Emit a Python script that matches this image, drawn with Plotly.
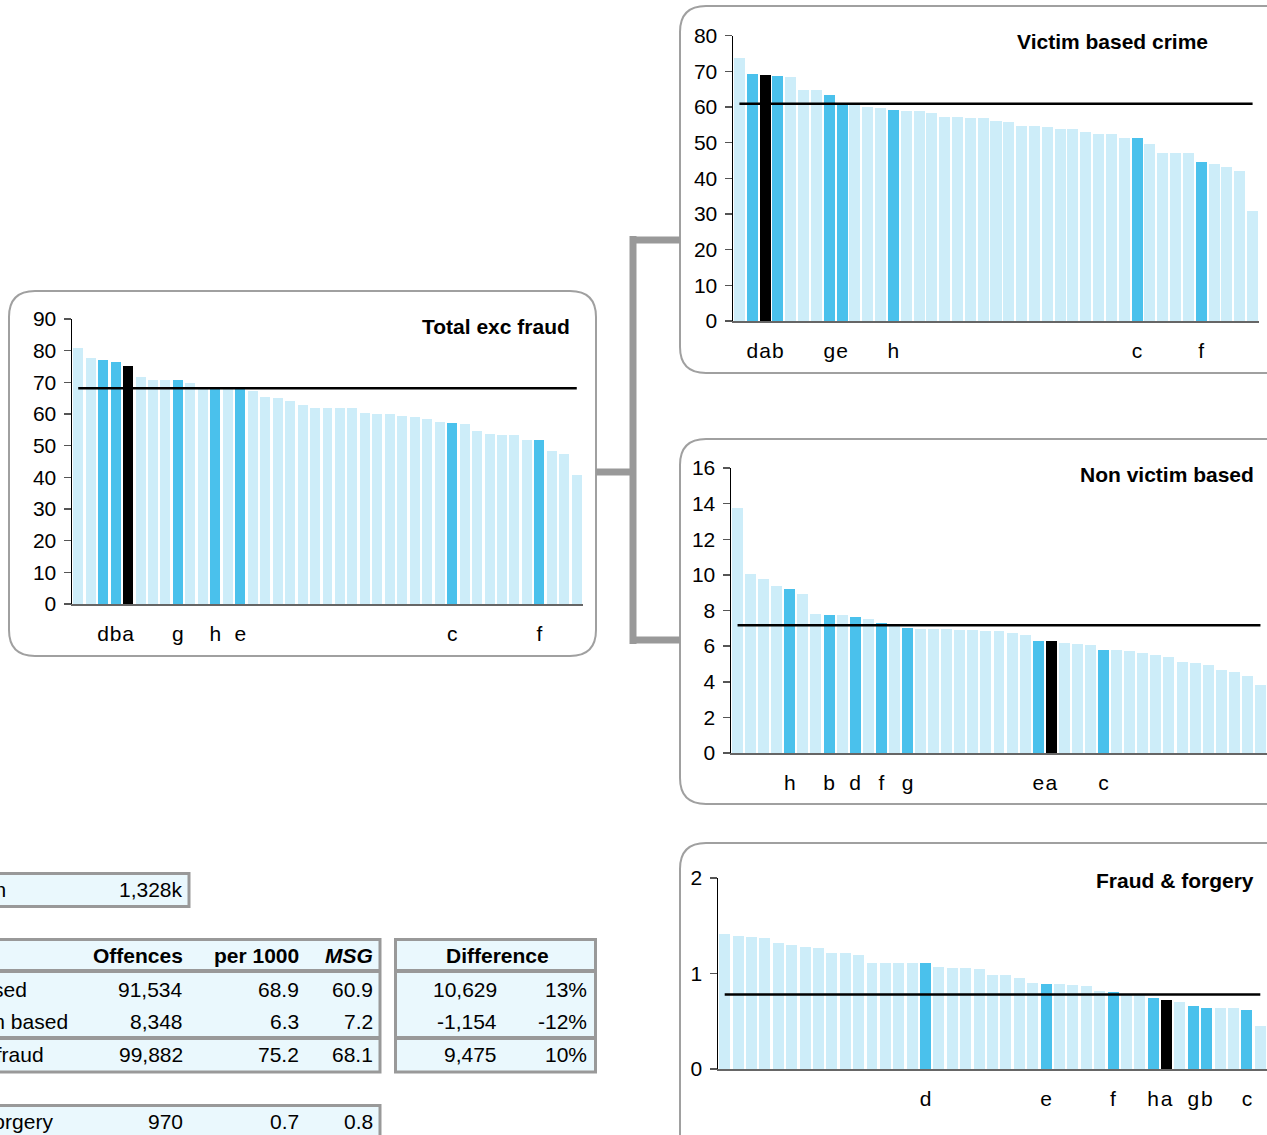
import plotly.graph_objects as go

W, H = 1267, 1135
FONT = "Liberation Sans, Arial, sans-serif"

# ---------------- data ----------------
tef_vals = [80.8, 77.7, 77.0, 76.4, 75.2, 71.7, 70.7, 70.7, 70.7, 69.8,
            68.5, 68.5, 68.3, 68.2, 67.3, 65.4, 65.0, 64.1, 62.8, 61.9,
            61.9, 61.9, 61.9, 60.3, 60.0, 60.0, 59.4, 59.1, 58.4, 57.5,
            57.1, 56.8, 54.6, 53.7, 53.4, 53.4, 51.8, 51.8, 48.3, 47.4,
            40.7]
tef_marks = {'d': 3, 'b': 4, 'a': 5, 'g': 9, 'h': 12, 'e': 14, 'c': 31, 'f': 38}
tef_avg = 68.1

vic_vals = [73.8, 69.4, 68.9, 68.8, 68.5, 64.9, 64.9, 63.5, 61.0, 60.6,
            59.9, 59.6, 59.3, 59.0, 59.0, 58.2, 57.3, 57.3, 56.8, 56.8,
            56.2, 55.7, 54.8, 54.8, 54.3, 53.7, 53.7, 53.1, 52.3, 52.3,
            51.2, 51.2, 49.5, 47.0, 47.0, 47.0, 44.5, 43.9, 43.1, 42.2,
            30.8]
vic_marks = {'d': 2, 'a': 3, 'b': 4, 'g': 8, 'e': 9, 'h': 13, 'c': 32, 'f': 37}
vic_avg = 60.9

nv_vals = [13.78, 10.07, 9.79, 9.40, 9.18, 8.95, 7.83, 7.77, 7.72, 7.66,
           7.55, 7.32, 7.15, 7.04, 6.98, 6.98, 6.98, 6.93, 6.93, 6.87,
           6.87, 6.76, 6.65, 6.31, 6.30, 6.20, 6.14, 6.09, 5.81, 5.81,
           5.75, 5.64, 5.52, 5.41, 5.13, 5.07, 4.96, 4.68, 4.57, 4.34,
           3.84]
nv_marks = {'h': 5, 'b': 8, 'd': 10, 'f': 12, 'g': 14, 'e': 24, 'a': 25, 'c': 29}
nv_avg = 7.17

ff_vals = [1.41, 1.39, 1.38, 1.37, 1.32, 1.30, 1.28, 1.27, 1.21, 1.21,
           1.19, 1.11, 1.11, 1.11, 1.11, 1.11, 1.07, 1.06, 1.06, 1.05,
           0.98, 0.98, 0.95, 0.90, 0.89, 0.89, 0.88, 0.87, 0.82, 0.81,
           0.78, 0.78, 0.74, 0.72, 0.70, 0.66, 0.64, 0.64, 0.64, 0.62,
           0.45]
ff_marks = {'d': 16, 'e': 25, 'f': 30, 'h': 33, 'a': 34, 'g': 36, 'b': 37, 'c': 40}
ff_avg = 0.78

# table data
pop_label = "Population"
pop_value = "1,328k"
table_header = ["Offences", "per 1000", "MSG"]
row_names = ["Victim based", "Non victim based", "Total exc fraud"]
offences = [91534, 8348, 99882]
per1000 = [68.9, 6.3, 75.2]
msg = [60.9, 7.2, 68.1]
diff_header = "Difference"
diff_n = [10629, -1154, 9475]
diff_pct = [13, -12, 10]
fraud_name = "Fraud & forgery"
fraud_off = 970
fraud_per1000 = 0.7
fraud_msg = 0.8

# ---------------- styling ----------------
LIGHT = "#CDEDF9"
BLUE = "#4AC1EC"
BLACK = "#000000"
GREY = "#A0A0A0"
FILL = "#EAF8FD"


def X(v):
    return v / W


def Y(v):
    return 1 - v / H


panels = [
    dict(title="Total exc fraud", vals=tef_vals, marks=tef_marks, avg=tef_avg,
         xd=(72, 583), yd=(604, 319), yr=(0, 90), dt=10, bw=0.8, tt=(572, 326)),
    dict(title="Victim based crime", vals=vic_vals, marks=vic_marks, avg=vic_avg,
         xd=(733, 1259), yd=(321, 35.7), yr=(0, 80), dt=10, bw=0.86, tt=(1210, 41)),
    dict(title="Non victim based", vals=nv_vals, marks=nv_marks, avg=nv_avg,
         xd=(731, 1267), yd=(753, 468), yr=(0, 16), dt=2, bw=0.84, tt=(1256, 475)),
    dict(title="Fraud & forgery", vals=ff_vals, marks=ff_marks, avg=ff_avg,
         xd=(718, 1267), yd=(1069, 878), yr=(0, 2), dt=1, bw=0.82, tt=(1256, 880)),
]

fig = go.Figure()
layout = dict(
    width=W, height=H, margin=dict(l=0, r=0, t=0, b=0, autoexpand=False),
    paper_bgcolor="white", plot_bgcolor="rgba(0,0,0,0)",
    showlegend=False, font=dict(family=FONT, size=21, color="black"),
    bargap=0,
)
annotations = []
shapes = []

for i, p in enumerate(panels):
    n = len(p["vals"])
    sfx = "" if i == 0 else str(i + 1)
    xa, ya = "x" + sfx, "y" + sfx
    labels = [""] * n
    for letter, pos in p["marks"].items():
        labels[pos - 1] = letter
    colors = [LIGHT if l == "" else (BLACK if l == "a" else BLUE) for l in labels]
    idx = list(range(n))
    fig.add_trace(go.Bar(x=idx, y=p["vals"], marker=dict(color=colors, line=dict(width=0)),
                         width=p["bw"], xaxis=xa, yaxis=ya, hoverinfo="y"))
    fig.add_trace(go.Scatter(x=idx, y=[p["avg"]] * n, mode="lines",
                             line=dict(color="black", width=2.5),
                             xaxis=xa, yaxis=ya, hoverinfo="skip"))
    tv = sorted(p["marks"].values())
    tvals = [v - 1 for v in tv]
    ttext = [labels[v] for v in tvals]
    layout["xaxis" + sfx] = dict(
        domain=[X(p["xd"][0]), X(p["xd"][1])], range=[-0.5, n - 0.5],
        anchor=ya, showline=True, linecolor="#666666", linewidth=2,
        ticks="", tickvals=tvals, ticktext=ttext, tickangle=0, ticklabelstandoff=10,
        tickfont=dict(size=21, color="black"), showgrid=False, zeroline=False,
        fixedrange=True, automargin=False,
    )
    layout["yaxis" + sfx] = dict(
        domain=[Y(p["yd"][0]), Y(p["yd"][1])], range=list(p["yr"]),
        anchor=xa, showline=True, linecolor="black", linewidth=1.5,
        ticks="outside", ticklen=7, tickwidth=1.5, tickcolor="#555555",
        tick0=0, dtick=p["dt"], ticklabelstandoff=3, tickangle=0,
        tickfont=dict(size=21, color="black"), showgrid=False, zeroline=False,
        fixedrange=True, automargin=False,
    )
    annotations.append(dict(text="<b>%s</b>" % p["title"], xref="paper", yref="paper",
                            x=X(p["tt"][0]), y=Y(p["tt"][1]), xanchor="right",
                            yanchor="middle", showarrow=False,
                            font=dict(size=21, color="black")))


def rrect_path(x0, y0, x1, y1, r):
    return " ".join([
        f"M {X(x0 + r)},{Y(y0)}",
        f"L {X(x1 - r)},{Y(y0)}",
        f"Q {X(x1)},{Y(y0)} {X(x1)},{Y(y0 + r)}",
        f"L {X(x1)},{Y(y1 - r)}",
        f"Q {X(x1)},{Y(y1)} {X(x1 - r)},{Y(y1)}",
        f"L {X(x0 + r)},{Y(y1)}",
        f"Q {X(x0)},{Y(y1)} {X(x0)},{Y(y1 - r)}",
        f"L {X(x0)},{Y(y0 + r)}",
        f"Q {X(x0)},{Y(y0)} {X(x0 + r)},{Y(y0)}",
        "Z",
    ])


for box in [(9, 291, 596, 656), (680, 6, 1320, 373), (680, 439, 1320, 804), (680, 843, 1320, 1200)]:
    shapes.append(dict(type="path", xref="paper", yref="paper", path=rrect_path(*box, 26),
                       line=dict(color=GREY, width=2), fillcolor="rgba(0,0,0,0)", layer="below"))

# connector
conn = (f"M {X(596)},{Y(472)} L {X(633)},{Y(472)} "
        f"M {X(633)},{Y(236)} L {X(633)},{Y(644)} "
        f"M {X(633)},{Y(240)} L {X(680)},{Y(240)} "
        f"M {X(633)},{Y(640)} L {X(680)},{Y(640)}")
shapes.append(dict(type="path", xref="paper", yref="paper", path=conn,
                   line=dict(color="#999999", width=7), layer="below"))


def rect(x0, y0, x1, y1):
    shapes.append(dict(type="rect", xref="paper", yref="paper",
                       x0=X(x0), x1=X(x1), y0=Y(y1), y1=Y(y0),
                       line=dict(color="#999999", width=3), fillcolor=FILL, layer="below"))


def hline(x0, x1, y):
    shapes.append(dict(type="line", xref="paper", yref="paper",
                       x0=X(x0), x1=X(x1), y0=Y(y), y1=Y(y),
                       line=dict(color="#999999", width=4), layer="below"))


def txt(s, x, y, anchor="right", bold=False, italic=False):
    if bold:
        s = "<b>%s</b>" % s
    if italic:
        s = "<i>%s</i>" % s
    annotations.append(dict(text=s, xref="paper", yref="paper", x=X(x), y=Y(y),
                            xanchor=anchor, yanchor="middle", showarrow=False,
                            font=dict(size=21, color="black")))


# population box
rect(-10, 873.5, 189, 906.5)
txt(pop_label, -95, 889, anchor="left")
txt(pop_value, 185, 889)

# main table
rect(-10, 939.5, 380, 1072)
hline(-10, 380, 971)
hline(-10, 380, 1038)
col_right = [185, 301, 375]
txt(table_header[0], col_right[0], 955, bold=True)
txt(table_header[1], col_right[1], 955, bold=True)
txt(table_header[2], col_right[2], 955, bold=True, italic=True)
row_y = [989, 1021, 1054]
for k in range(3):
    txt(row_names[k], -95, row_y[k], anchor="left")
    txt(f"{offences[k]:,}", col_right[0], row_y[k])
    txt(f"{per1000[k]:.1f}", col_right[1], row_y[k])
    txt(f"{msg[k]:.1f}", col_right[2], row_y[k])

# difference table
rect(395.5, 939.5, 595.5, 1072)
hline(395.5, 595.5, 971)
hline(395.5, 595.5, 1038)
txt(diff_header, 497, 955, anchor="center", bold=True)
for k in range(3):
    txt(f"{diff_n[k]:,}", 499, row_y[k])
    txt(f"{diff_pct[k]}%", 589, row_y[k])

# fraud row
rect(-10, 1105.5, 380, 1160)
txt(fraud_name, -95, 1121, anchor="left")
txt(f"{fraud_off:,}", col_right[0], 1121)
txt(f"{fraud_per1000:.1f}", col_right[1], 1121)
txt(f"{fraud_msg:.1f}", col_right[2], 1121)

layout["annotations"] = annotations
layout["shapes"] = shapes
fig.update_layout(**layout)

fig.write_html("out.html", config={"displayModeBar": False, "staticPlot": True},
               post_script="document.body.style.margin='0';document.body.style.overflow='hidden';")
